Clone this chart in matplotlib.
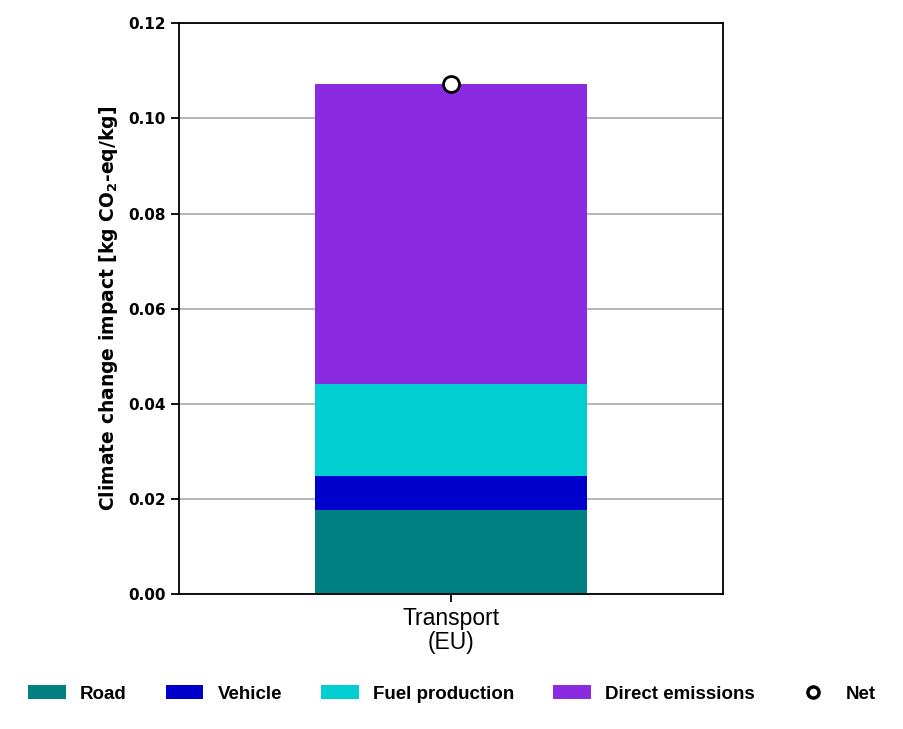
import numpy as np
import matplotlib
matplotlib.use('Agg')
import matplotlib.pyplot as plt
from matplotlib.lines import Line2D
from matplotlib.patches import Patch

plt.rcParams['font.family'] = ['Liberation Sans', 'DejaVu Sans']
plt.rcParams['mathtext.fontset'] = 'dejavusans'
plt.rcParams['mathtext.default'] = 'bf'

# Data
categories = ['Transport\n(EU)']
components = ['Road', 'Vehicle', 'Fuel production', 'Direct emissions']
values = {
    'Road': [0.0177],
    'Vehicle': [0.0072],
    'Fuel production': [0.0193],
    'Direct emissions': [0.0630],
}
net = [0.1072]
colors = ['#008080', '#0000CD', '#00CED1', '#8A2BE2']

fig = plt.figure(figsize=(9.04, 7.29), dpi=100)
ax = fig.add_axes([0.198, 0.185, 0.602, 0.783])

x = np.arange(len(categories))
bottom = np.zeros(len(categories))
for comp, col in zip(components, colors):
    v = np.array(values[comp])
    ax.bar(x, v, width=0.5, bottom=bottom, color=col, zorder=2)
    bottom += v

ax.plot(x, net, 'o', markerfacecolor='white', markeredgecolor='black',
        markeredgewidth=2, markersize=11.5, zorder=3)

ticks = np.arange(0, 0.121, 0.02)
ax.set_xlim(-0.5, 0.5)
ax.set_ylim(0, 0.12)
ax.set_yticks(ticks)
ax.set_yticklabels([f'{t:.2f}' for t in ticks], fontweight='bold', fontsize=11,
                   family='DejaVu Sans')
ax.set_xticks(x)
ax.set_xticklabels(categories, fontsize=16.5, linespacing=1.05)
ax.yaxis.grid(True, color='#b0b0b0', linewidth=1.3, zorder=0)
ax.set_axisbelow(True)
for s in ax.spines.values():
    s.set_linewidth(1.3)
ax.tick_params(width=1.3, length=6)
ax.set_ylabel(r'Climate change impact [kg CO$_2$-eq/kg]', fontweight='bold',
              fontsize=13.5, family='DejaVu Sans', labelpad=6)

handles = [Patch(facecolor=c, label=l) for c, l in zip(colors, components)]
handles.append(Line2D([0], [0], marker='o', linestyle='none', markerfacecolor='white',
                      markeredgecolor='black', markeredgewidth=2.5, markersize=8, label='Net'))
fig.legend(handles=handles, loc='center', bbox_to_anchor=(0.5, 0.048), ncol=5,
           frameon=False, prop={'weight': 'bold', 'size': 13.5},
           handlelength=2.0, handleheight=0.75, columnspacing=2.1, handletextpad=0.75)

fig.savefig('out.png', dpi=100)
